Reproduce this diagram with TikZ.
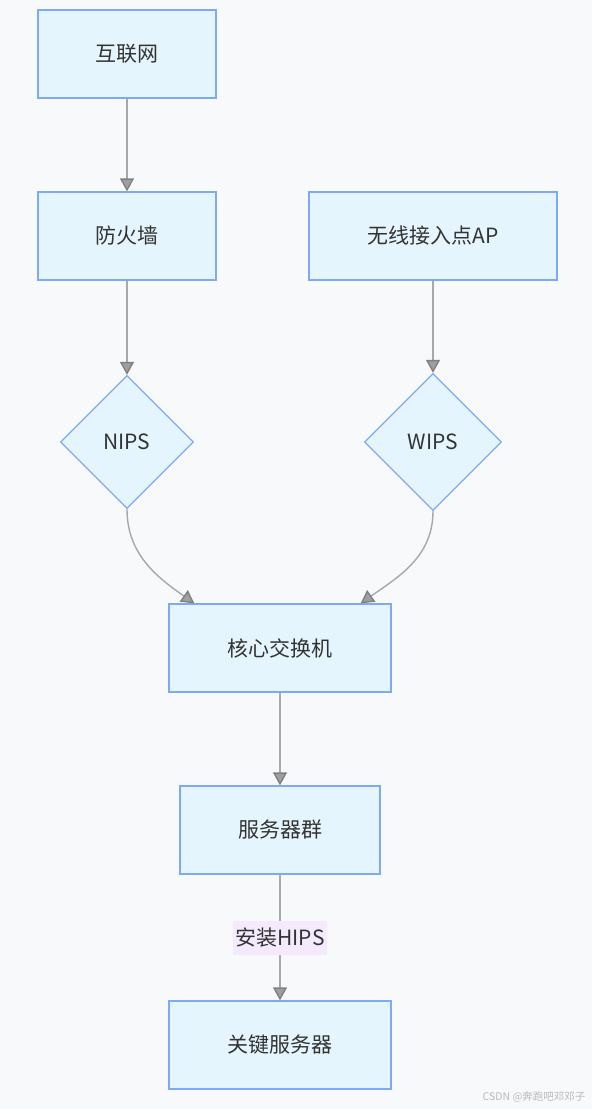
\documentclass[tikz,border=0pt]{standalone}
\usepackage{fontspec}
\setmainfont{Noto Sans CJK SC}
\usetikzlibrary{shapes.geometric,arrows.meta}
\definecolor{pagebg}{HTML}{F8F9FA}
\definecolor{boxfill}{HTML}{E5F5FE}
\definecolor{boxline}{HTML}{7EA9F7}
\definecolor{edgeline}{HTML}{A8A8A8}
\definecolor{labelbg}{HTML}{F4EAFD}
\definecolor{txt}{HTML}{333333}

\tikzset{
  netbox/.style={draw=boxline, fill=boxfill, line width=1.3pt, rectangle,
    minimum height=88pt, inner sep=0pt, text=txt,
    font=\fontsize{21}{24}\selectfont},
  idsbox/.style={draw=boxline, fill=boxfill, line width=1.3pt, diamond,
    inner sep=0pt, text=txt, font=\fontsize{21}{24}\selectfont},
  flow/.style={draw=edgeline, line width=1.4pt,
    -{Triangle[width=14pt,length=13pt,color=gray,fill=gray!75]}},
  edgetag/.style={fill=labelbg, text=txt, inner sep=2pt,
    minimum height=34pt, font=\fontsize{21}{24}\selectfont}
}

\begin{document}
\begin{tikzpicture}[x=1pt,y=-1pt]
\fill[pagebg] (0,0) rectangle (592,1109);
\useasboundingbox (0,0) rectangle (592,1109);

\node[netbox, minimum width=178pt] (internet) at (127,54) {互联网};
\node[netbox, minimum width=178pt] (firewall) at (127,236) {防火墙};
\node[netbox, minimum width=248pt] (ap) at (433,236) {无线接入点AP};
\node[idsbox, minimum width=133pt, minimum height=133pt] (nips) at (127,442) {NIPS};
\node[idsbox, minimum width=137pt, minimum height=137pt] (wips) at (433,442) {WIPS};
\node[netbox, minimum width=222pt] (core) at (280,648) {核心交换机};
\node[netbox, minimum width=200pt] (servers) at (280,830) {服务器群};
\node[netbox, minimum width=222pt] (keysrv) at (280,1045) {关键服务器};

\draw[flow] (internet) -- (firewall);
\draw[flow] (firewall) -- (nips);
\draw[flow] (ap) -- (wips);
\draw[flow] (nips.south) to[out=-90,in=145] ([xshift=26pt]core.north west);
\draw[flow] (wips.south) to[out=-90,in=35] ([xshift=-31pt]core.north east);
\draw[flow] (core) -- (servers);
\draw[flow] (servers) -- node[edgetag] (hips) {安装HIPS} (keysrv);

\node[anchor=east, text=gray!55, font=\fontsize{10.5}{12}\selectfont] (mark) at (589,1097) {CSDN @奔跑吧邓邓子};
\end{tikzpicture}
\end{document}
